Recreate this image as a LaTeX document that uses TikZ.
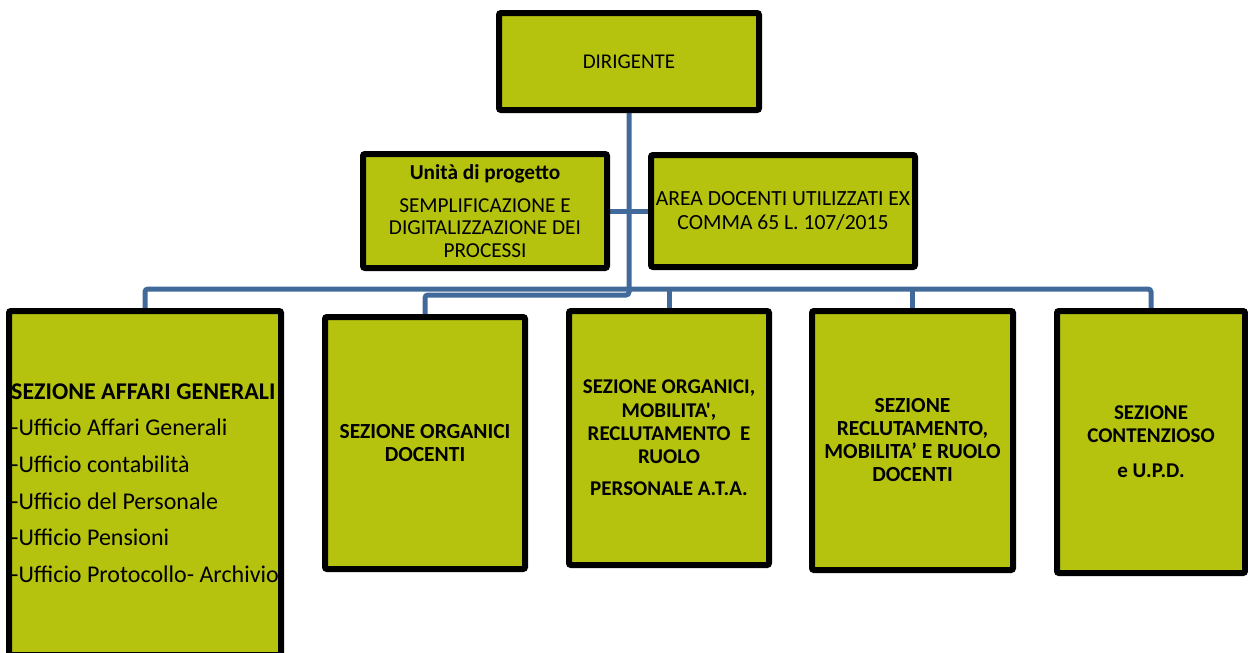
\documentclass[tikz,border=0pt]{standalone}
\usepackage{fontspec}
\newfontfamily\calibrifont{Carlito}
\usetikzlibrary{backgrounds}
\definecolor{boxgreen}{RGB}{181,195,15}
\definecolor{connblue}{RGB}{65,106,155}
\tikzset{
  orgbox/.style={draw=black, line width=6pt, fill=boxgreen, rounded corners=2pt,
    inner sep=0pt, align=center},
  fs/.style 2 args={font=\calibrifont\fontsize{#1}{#2}\selectfont},
  fsb/.style 2 args={font=\calibrifont\fontsize{#1}{#2}\selectfont\bfseries},
  conn/.style={draw=connblue, line width=5pt, rounded corners=3pt}
}
\begin{document}
\begin{tikzpicture}[x=1pt,y=-1pt]
\useasboundingbox (0,0) rectangle (1248,653);
\clip (0,0) rectangle (1248,653);
% top
\node[orgbox, fs={21}{25}, minimum width=260pt, minimum height=97pt] (dir) at (629,61.5)
  {DIRIGENTE};
\node[orgbox, fs={21.3}{22.5}, minimum width=244pt, minimum height=114pt] (unita) at (485,211)
  {\textbf{Unità di progetto}\\[10.5pt]
   SEMPLIFICAZIONE E\\ DIGITALIZZAZIONE DEI\\ PROCESSI};
\node[orgbox, fs={21.6}{24}, minimum width=264pt, minimum height=112pt] (area) at (783,211)
  {AREA DOCENTI UTILIZZATI EX\\ COMMA 65 L. 107/2015};
% sections
\node[orgbox, fs={24}{36.6}, minimum width=272pt, minimum height=344pt, align=left] (affari) at (145,483)
  {\textbf{SEZIONE AFFARI GENERALI}\\
   -Ufficio Affari Generali\\ -Ufficio contabilità\\ -Ufficio del Personale\\
   -Ufficio Pensioni\\ -Ufficio Protocollo- Archivio};
\node[orgbox, fsb={21.5}{22.5}, minimum width=200pt, minimum height=252pt] (organici) at (425,443)
  {SEZIONE ORGANICI\\ DOCENTI};
\node[orgbox, fsb={21}{23.3}, minimum width=200pt, minimum height=254pt] (ata) at (669,438)
  {SEZIONE ORGANICI,\\ MOBILITA',\\
   RECLUTAMENTO\ \ E\\ RUOLO\\[9pt] PERSONALE A.T.A.};
\node[orgbox, fsb={21.5}{23}, minimum width=201pt, minimum height=259pt] (recl) at (912.5,440.5)
  {SEZIONE\\ RECLUTAMENTO,\\ MOBILITA’ E RUOLO\\ DOCENTI};
\node[orgbox, fsb={21}{23}, minimum width=188pt, minimum height=262pt] (cont) at (1151,442)
  {SEZIONE\\ CONTENZIOSO\\[12pt] e U.P.D.};
% connectors
\coordinate (bus) at (0,289);
\coordinate (elbow) at (629,295);
\begin{scope}[on background layer]
\draw[conn] (dir.south) -- (elbow) -| (organici.north);
\draw[conn] (unita.east) -- (area.west);
\draw[conn] (affari.north) -- (affari.north |- bus) -- (cont.north |- bus) -- (cont.north);
\draw[conn] (ata.north |- bus) -- (ata.north);
\draw[conn] (recl.north |- bus) -- (recl.north);
\end{scope}
\end{tikzpicture}
\end{document}
